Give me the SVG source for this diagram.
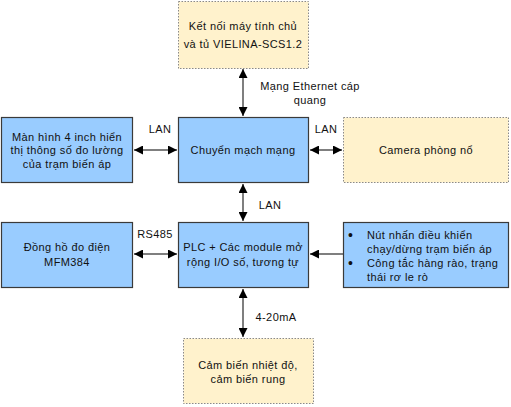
<svg xmlns="http://www.w3.org/2000/svg" width="511" height="407" viewBox="0 0 511 407">
<style>
.blue{fill:#99CCFF;stroke:#3a3a3a;stroke-width:1.2}
.yel{fill:#FFF2CC;stroke:#8a8a8a;stroke-width:1;stroke-dasharray:1.5 1.5}
text{font-family:"Liberation Sans",Arial,sans-serif;font-size:11px;fill:#111;letter-spacing:0.4px}
.c{text-anchor:middle}
.b{font-size:14px}
.ln{stroke:#555;stroke-width:1.5;fill:none}
</style>
<defs>
<marker id="ah" viewBox="0 0 10 10" refX="10" refY="5" markerWidth="10" markerHeight="9" markerUnits="userSpaceOnUse" orient="auto-start-reverse">
<path d="M0,0 L10,5 L0,10 Z" fill="#000"/>
</marker>
</defs>
<rect width="511" height="407" fill="#fff"/>
<g id="connectors">
<line class="ln" x1="243" y1="69" x2="243" y2="116" marker-start="url(#ah)" marker-end="url(#ah)"/>
<line class="ln" x1="134" y1="150" x2="177" y2="150" marker-start="url(#ah)" marker-end="url(#ah)"/>
<line class="ln" x1="310" y1="150" x2="342" y2="150" marker-start="url(#ah)" marker-end="url(#ah)"/>
<line class="ln" x1="243" y1="184" x2="243" y2="221" marker-start="url(#ah)" marker-end="url(#ah)"/>
<line class="ln" x1="134" y1="254" x2="177" y2="254" marker-start="url(#ah)" marker-end="url(#ah)"/>
<line class="ln" x1="343" y1="254" x2="310" y2="254" marker-end="url(#ah)"/>
<line class="ln" x1="243" y1="289" x2="243" y2="337" marker-start="url(#ah)" marker-end="url(#ah)"/>
<text class="c" x="310" y="90">Mạng Ethernet cáp</text>
<text class="c" x="310" y="104">quang</text>
<text class="c" x="160" y="133">LAN</text>
<text class="c" x="326" y="133">LAN</text>
<text class="c" x="270" y="209">LAN</text>
<text class="c" x="155" y="238">RS485</text>
<text class="c" x="276" y="321">4-20mA</text>
</g>
<g id="n-top">
<rect class="yel" x="178.5" y="1.5" width="130" height="67"/>
<text class="c" x="243" y="30">Kết nối máy tính chủ</text>
<text class="c" x="243" y="48">và tủ VIELINA-SCS1.2</text>
</g>
<g id="n-display">
<rect class="blue" x="1.5" y="117.5" width="131" height="65"/>
<text class="c" x="67" y="141">Màn hình 4 inch hiển</text>
<text class="c" x="67" y="154">thị thông số đo lường</text>
<text class="c" x="67" y="168">của trạm biến áp</text>
</g>
<g id="n-switch">
<rect class="blue" x="178.5" y="117.5" width="130" height="65"/>
<text class="c" x="243" y="154">Chuyển mạch mạng</text>
</g>
<g id="n-camera">
<rect class="yel" x="343.5" y="117.5" width="165" height="65"/>
<text class="c" x="426" y="154">Camera phòng nổ</text>
</g>
<g id="n-meter">
<rect class="blue" x="1.5" y="222.5" width="131" height="65"/>
<text class="c" x="67" y="251">Đồng hồ đo điện</text>
<text class="c" x="67" y="266">MFM384</text>
</g>
<g id="n-plc">
<rect class="blue" x="178.5" y="222.5" width="130" height="65"/>
<text class="c" x="243" y="251">PLC + Các module mở</text>
<text class="c" x="243" y="266">rộng I/O số, tương tự</text>
</g>
<g id="n-inputs">
<rect class="blue" x="343.5" y="222.5" width="165" height="65"/>
<text class="b" x="348" y="240">•</text>
<text x="367" y="239">Nút nhấn điều khiển</text>
<text x="367" y="253">chạy/dừng trạm biến áp</text>
<text class="b" x="348" y="268">•</text>
<text x="367" y="267">Công tắc hàng rào, trạng</text>
<text x="367" y="281">thái rơ le rò</text>
</g>
<g id="n-sensor">
<rect class="yel" x="183.5" y="338.5" width="130" height="65"/>
<text class="c" x="248" y="369">Cảm biến nhiệt độ,</text>
<text class="c" x="248" y="383">cảm biến rung</text>
</g>
</svg>
